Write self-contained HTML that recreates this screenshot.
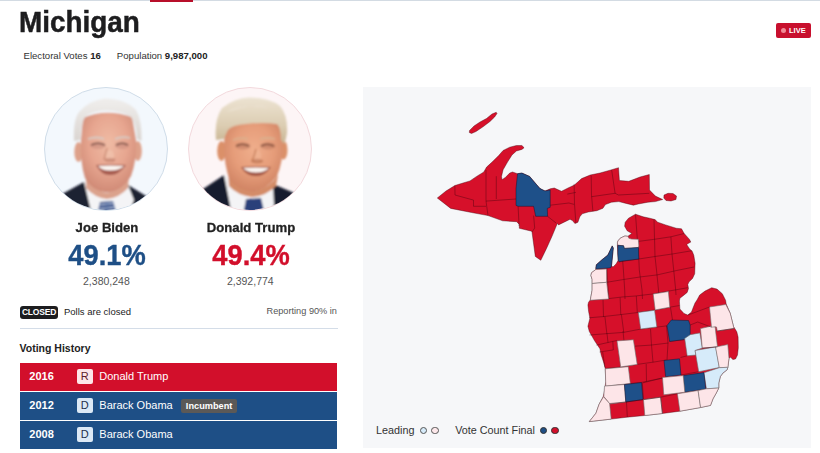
<!DOCTYPE html>
<html><head><meta charset="utf-8">
<style>
*{margin:0;padding:0;box-sizing:border-box}
html,body{width:820px;height:453px;overflow:hidden;background:#fff}
body{position:relative;font-family:"Liberation Sans",sans-serif;color:#222}
.a{position:absolute;white-space:nowrap;line-height:1}
#topline{position:absolute;left:0;top:0;width:820px;height:1px;background:#d3dbe3}
#topred{position:absolute;left:150px;top:0;width:43px;height:1.5px;background:#b80f2a}
#title{left:19.2px;top:7.3px;-webkit-text-stroke:0.5px #1d1d1f;font-size:30px;transform:scaleX(0.93);transform-origin:0 0;font-weight:bold;color:#1d1d1f}
#meta{left:23.5px;top:50.5px;font-size:9.6px;color:#333}
#meta b{color:#222}
#live{position:absolute;left:776px;top:23px;width:35px;height:15px;background:#c8102e;border-radius:2px;color:#fff;font-size:7.5px;font-weight:bold}
#live i{position:absolute;left:5px;top:5px;width:5px;height:5px;border-radius:50%;background:#f08a96}
#live span{position:absolute;left:13px;top:4px;line-height:1}
.photo{position:absolute;top:87px;width:124px;height:124px;border-radius:50%;overflow:hidden}
.name{font-size:13.7px;-webkit-text-stroke:0.3px #222;transform:scaleX(0.96);transform-origin:70px 0;font-weight:bold;color:#222;text-align:center;width:140px}
.pct{font-size:29.8px;-webkit-text-stroke:0.4px currentColor;font-weight:bold;text-align:center;width:140px;transform:scaleX(0.915);transform-origin:70px 0}
.votes{font-size:10.5px;color:#555;text-align:center;width:140px}
#closed{position:absolute;left:20px;top:306px;width:38px;height:13px;background:#1d1d1f;border-radius:3px;color:#fff;font-size:8.5px;font-weight:bold;text-align:center;line-height:13px;letter-spacing:-0.2px}
#hr{position:absolute;left:20px;top:328px;width:318px;height:1px;background:#d4dde8}
#vh{left:19.5px;top:342.8px;font-size:10.5px;font-weight:bold;color:#222}
.row{position:absolute;left:20px;width:317px;height:28px;color:#fff}
.row .yr{position:absolute;left:9.3px;top:8.4px;font-size:11px;font-weight:bold;line-height:1}
.row .bd{position:absolute;left:56.8px;top:6.3px;width:16px;height:14.5px;border-radius:2px;font-size:11px;text-align:center;line-height:15.8px}
.row .nm{position:absolute;left:79.3px;top:8.4px;font-size:11px;line-height:1}
#map{position:absolute;left:0;top:0}
#legend{left:376px;top:424.7px;font-size:10.8px;color:#333}
</style></head><body>
<div id="topline"></div><div id="topred"></div>
<div class="a" id="title">Michigan</div>
<div class="a" id="meta">Electoral Votes <b>16</b><span style="display:inline-block;width:16px"></span>Population <b>9,987,000</b></div>
<div id="live"><i></i><span>LIVE</span></div>

<!-- map panel -->
<div style="position:absolute;left:363px;top:87px;width:448px;height:361px;background:#f6f7f9"></div>

<!-- Biden photo -->
<div class="photo" id="pb" style="left:44px;border:1px solid #d0dde9;background:#f3f8fd"><svg viewBox="44 87 124 124" width="124" height="124" style="position:absolute;left:-1px;top:-1px">
<defs>
<radialGradient id="bf" cx="0.5" cy="0.38" r="0.62"><stop offset="0" stop-color="#efbba4"/><stop offset="0.55" stop-color="#e7a690"/><stop offset="1" stop-color="#d08a76"/></radialGradient>
<linearGradient id="bh" x1="0" y1="0" x2="0" y2="1"><stop offset="0" stop-color="#f0eeec"/><stop offset="1" stop-color="#dad5d1"/></linearGradient>
<filter id="bl1" x="-10%" y="-10%" width="120%" height="120%"><feGaussianBlur stdDeviation="0.8"/></filter>
</defs>
<g filter="url(#bl1)">
<path d="M40,215 L50,200 L64,193 L84,182 L96,200 L100,215 Z" fill="#1b2030"/>
<path d="M172,215 L160,203 L146,196 L128,185 L120,200 L118,215 Z" fill="#1b2030"/>
<path d="M84,182 L98,189 L106,201 L114,191 L128,185 L134,200 L128,215 L92,215 Z" fill="#f4f4f6"/>
<path d="M86,172 Q92,190 107,193 Q122,190 129,174 L128,188 Q119,198 107,199 Q95,198 86,188 Z" fill="#dba28c"/>
<path d="M100,202 L113,201 L117,215 L97,215 Z" fill="#34508c"/>
<path d="M99,205 L115,203 M98,209 L116,207 M97,213 L117,211" stroke="#c9d6ea" stroke-width="1.2"/>
<ellipse cx="78.5" cy="152" rx="4.2" ry="10" fill="#dea18a"/>
<ellipse cx="137.8" cy="151" rx="4" ry="10" fill="#dea18a"/>
<path d="M83,118 Q106,108 132,117 L136,140 Q137,160 131,176 Q122,191 107,192.5 Q92,191 85,178 Q80,162 81,140 Z" fill="url(#bf)"/>
<path d="M74,141 Q73,120 79,112 Q90,100 105,98.5 Q126,99 136,110 Q142,120 141.5,141 L137,139 Q136,124 131,117 Q121,110.5 106,110.5 Q92,111 85,117 Q81,124 80.5,140 Z" fill="url(#bh)"/>
<ellipse cx="98" cy="145.5" rx="7.5" ry="3.6" fill="#c88a7c" opacity="0.55"/><ellipse cx="122" cy="145.5" rx="7" ry="3.6" fill="#c88a7c" opacity="0.55"/><ellipse cx="110" cy="156" rx="4" ry="6" fill="#f4c8b2" opacity="0.6"/><ellipse cx="110" cy="160" rx="5.5" ry="2" fill="#b87062" opacity="0.5"/>
<path d="M88,139 Q97,136 104,139 M115,139 Q122,136 130,138" stroke="#d6cbc4" stroke-width="1.8" fill="none"/>
<path d="M91,145 Q98,141.5 105,145" stroke="#7a5046" stroke-width="1.5" fill="none"/>
<path d="M116,145 Q122,141.5 128,145" stroke="#7a5046" stroke-width="1.5" fill="none"/>
<path d="M107,148 Q105,156 104,159 Q109,162 115,159" stroke="#c98a72" stroke-width="1.2" fill="none"/>
<path d="M96,165 Q110,164 126,165 Q119,175 110,175 Q101,175 96,165 Z" fill="#a55a4e"/>
<path d="M98,166 Q110,165 124,166 Q119,170.5 110,170.5 Q102,170.5 98,166 Z" fill="#fbf6f2"/>
</g>
</svg></div>
<!-- Trump photo -->
<div class="photo" id="pt" style="left:188px;border:1px solid #f3d9dd;background:#fdf5f6"><svg viewBox="188 87 124 124" width="124" height="124" style="position:absolute;left:-1px;top:-1px">
<defs>
<radialGradient id="tf" cx="0.5" cy="0.4" r="0.62"><stop offset="0" stop-color="#efae8c"/><stop offset="0.55" stop-color="#e69d7a"/><stop offset="1" stop-color="#cf8262"/></radialGradient>
<linearGradient id="th" x1="0" y1="0" x2="0" y2="1"><stop offset="0" stop-color="#ece3d2"/><stop offset="0.6" stop-color="#dccdb2"/><stop offset="1" stop-color="#c8b492"/></linearGradient>
<filter id="bl2" x="-10%" y="-10%" width="120%" height="120%"><feGaussianBlur stdDeviation="0.8"/></filter>
</defs>
<g filter="url(#bl2)">
<path d="M186,215 L191,195 L203,189 L224,175 L236,205 L240,215 Z" fill="#191e2f"/>
<path d="M316,215 L305,199 L292,192 L273,184 L266,200 L264,215 Z" fill="#191e2f"/>
<path d="M224,175 L240,186 L250,200 L262,190 L273,184 L274,205 L268,215 L232,215 Z" fill="#f4f4f6"/>
<path d="M228,172 Q236,188 254,191 Q270,188 278,175 L276,186 Q266,196 253,197 Q238,196 229,186 Z" fill="#d48c68"/>
<path d="M246,199 L261,198 L265,215 L243,215 Z" fill="#2c417a"/>
<ellipse cx="221.5" cy="151" rx="4.3" ry="10" fill="#db9069"/>
<ellipse cx="283.5" cy="150" rx="4" ry="9.5" fill="#db9069"/>
<path d="M225,124 Q250,119 281,124 L283,142 Q283,162 277,176 Q267,190 253,191.5 Q238,190 230,180 Q224,166 224,145 Z" fill="url(#tf)"/>
<path d="M216,140 Q214,120 222,108 Q236,97 250,97.5 Q270,98 280,106 Q288,115 287,133 Q286,140 284,144 L281,140 Q281,128 277,124 Q262,122 246,124 Q232,125 228,130 Q225,136 224,139 Z" fill="url(#th)"/>
<path d="M226,112 Q244,103 270,108 Q256,104 240,108 Z" fill="#f3eee4" opacity="0.8"/>
<ellipse cx="243" cy="146" rx="7.5" ry="3.6" fill="#c07a60" opacity="0.55"/><ellipse cx="268" cy="146" rx="7.5" ry="3.6" fill="#c07a60" opacity="0.55"/><ellipse cx="257" cy="156" rx="4.2" ry="6.5" fill="#f2b898" opacity="0.6"/><ellipse cx="257" cy="161" rx="6" ry="2.2" fill="#b0664a" opacity="0.5"/>
<path d="M233,140 Q241,137 248,139 M260,139 Q267,137 275,139" stroke="#dab08e" stroke-width="1.8" fill="none"/>
<path d="M236,146 Q242,142.5 249,146" stroke="#7a4a38" stroke-width="1.5" fill="none"/>
<path d="M261,146 Q267,142.5 274,146" stroke="#7a4a38" stroke-width="1.5" fill="none"/>
<path d="M256,149 Q254,157 252,161 Q257,164 263,161" stroke="#c27750" stroke-width="1.2" fill="none"/>
<path d="M241,167 Q256,166 271,167 Q265,176 256,176 Q246,176 241,167 Z" fill="#9e4f3e"/>
<path d="M243,168 Q256,167 269,168 Q264,172.5 256,172.5 Q248,172.5 243,168 Z" fill="#fbf6f2"/>
</g>
</svg></div>

<div class="a name" style="left:36.7px;top:221.1px">Joe Biden</div>
<div class="a name" style="left:180.7px;top:221.1px">Donald Trump</div>
<div class="a pct" style="left:36.7px;top:239.8px;color:#1e4f86">49.1%</div>
<div class="a pct" style="left:180.7px;top:239.8px;color:#d20f2b">49.4%</div>
<div class="a votes" style="left:36.4px;top:275.6px">2,380,248</div>
<div class="a votes" style="left:180.3px;top:275.6px">2,392,774</div>

<div id="closed">CLOSED</div>
<div class="a" style="left:64px;top:306.5px;font-size:9.5px;color:#222">Polls are closed</div>
<div class="a" style="left:266.5px;top:307px;font-size:9.2px;color:#555">Reporting 90% in</div>
<div id="hr"></div>
<div class="a" id="vh">Voting History</div>

<div class="row" style="top:363px;background:#d20f2b"><span class="yr">2016</span><span class="bd" style="background:#fde6e9;color:#5e1a2a">R</span><span class="nm">Donald Trump</span></div>
<div class="row" style="top:392px;background:#1e4f86"><span class="yr">2012</span><span class="bd" style="background:#dce9f6;color:#22304a">D</span><span class="nm">Barack Obama</span><span style="position:absolute;left:161.3px;top:7.3px;width:55.6px;height:14.1px;background:#5b5957;border-radius:2px;font-size:9.2px;font-weight:bold;text-align:center;line-height:14.1px">Incumbent</span></div>
<div class="row" style="top:421px;background:#1e4f86"><span class="yr">2008</span><span class="bd" style="background:#dce9f6;color:#22304a">D</span><span class="nm">Barack Obama</span></div>

<svg id="map" width="820" height="453" viewBox="0 0 820 453">
<polygon points="469.5,130.5 474.0,126.0 480.0,122.0 486.5,118.5 492.0,114.0 496.2,112.3 497.0,113.5 494.6,117.0 490.0,121.5 483.0,126.8 476.0,131.5 471.5,133.5 469.3,132.5" fill="#d6102a" stroke="rgba(60,0,10,0.55)" stroke-width="0.7" stroke-linejoin="round"/>
<polygon points="437.3,198.0 446.0,191.0 454.9,185.5 463.0,183.0 470.0,180.9 476.6,176.4 483.8,172.0 486.6,167.1 492.1,162.1 498.7,155.5 503.1,150.5 509.7,147.2 516.4,145.5 521.9,145.5 524.1,147.7 521.9,149.4 516.4,151.0 512.0,154.9 507.5,162.1 503.1,169.8 501.5,176.4 502.0,179.7 505.3,177.5 509.7,173.1 512.5,172.0 517.5,173.7 521.9,173.1 529.6,176.4 536.2,184.2 540.0,188.6 545.0,191.0 550.2,188.8 554.3,188.0 561.5,191.3 568.0,188.0 574.4,185.0 581.6,178.6 590.2,175.0 600.0,173.0 610.0,170.2 618.5,167.7 619.4,180.5 628.8,181.3 640.0,177.0 649.3,174.5 649.5,190.0 655.4,196.1 662.7,199.5 655.4,201.6 648.0,202.2 638.3,204.0 633.4,205.2 626.1,203.4 618.8,201.6 611.5,202.2 605.4,204.6 602.9,208.3 596.8,210.7 588.3,212.0 582.2,213.8 579.8,216.8 577.9,222.3 574.9,223.5 572.4,220.5 570.0,219.3 558.5,224.9 557.4,223.3 551.9,236.6 546.4,248.7 540.8,260.3 535.3,256.4 532.0,232.1 531.6,231.2 519.3,228.3 519.3,224.4 516.6,221.7 502.6,220.8 488.0,215.6 471.5,212.5 450.7,208.4" fill="#d6102a" stroke="rgba(60,0,10,0.55)" stroke-width="0.7" stroke-linejoin="round"/>
<polygon points="664.0,195.0 668.0,193.3 673.0,193.5 676.5,196.0 676.0,199.5 671.0,201.0 666.0,200.5 663.8,198.0" fill="#d6102a" stroke="rgba(60,0,10,0.55)" stroke-width="0.7" stroke-linejoin="round"/>
<polyline points="454.9,185.5 455.0,195.0 473.5,200.1 473.5,206.3 486.0,206.3" fill="none" stroke="rgba(60,0,10,0.55)" stroke-width="0.7" stroke-linejoin="round"/>
<polyline points="486.0,170.0 486.0,201.1 488.0,215.6" fill="none" stroke="rgba(60,0,10,0.55)" stroke-width="0.7" stroke-linejoin="round"/>
<polyline points="496.3,176.2 496.3,199.0" fill="none" stroke="rgba(60,0,10,0.55)" stroke-width="0.7" stroke-linejoin="round"/>
<polyline points="486.0,201.1 516.0,199.0" fill="none" stroke="rgba(60,0,10,0.55)" stroke-width="0.7" stroke-linejoin="round"/>
<polyline points="518.1,206.3 519.1,226.0" fill="none" stroke="rgba(60,0,10,0.55)" stroke-width="0.7" stroke-linejoin="round"/>
<polyline points="533.6,215.6 534.7,228.0 532.0,232.0" fill="none" stroke="rgba(60,0,10,0.55)" stroke-width="0.7" stroke-linejoin="round"/>
<polyline points="547.5,216.3 556.1,223.0" fill="none" stroke="rgba(60,0,10,0.55)" stroke-width="0.7" stroke-linejoin="round"/>
<polyline points="550.2,205.2 568.9,203.0 574.1,204.4" fill="none" stroke="rgba(60,0,10,0.55)" stroke-width="0.7" stroke-linejoin="round"/>
<polyline points="567.3,194.1 575.9,192.4" fill="none" stroke="rgba(60,0,10,0.55)" stroke-width="0.7" stroke-linejoin="round"/>
<polyline points="574.1,183.9 574.5,204.0 575.9,223.2" fill="none" stroke="rgba(60,0,10,0.55)" stroke-width="0.7" stroke-linejoin="round"/>
<polyline points="591.2,175.7 591.5,195.0 592.9,211.2" fill="none" stroke="rgba(60,0,10,0.55)" stroke-width="0.7" stroke-linejoin="round"/>
<polyline points="611.7,170.2 615.1,193.3" fill="none" stroke="rgba(60,0,10,0.55)" stroke-width="0.7" stroke-linejoin="round"/>
<polyline points="591.5,196.7 615.1,193.3 618.5,195.0 649.3,193.3" fill="none" stroke="rgba(60,0,10,0.55)" stroke-width="0.7" stroke-linejoin="round"/>
<polygon points="635.5,214.2 643.2,216.8 649.7,218.2 655.0,219.6 657.7,222.2 665.6,224.9 676.2,228.2 681.5,228.8 684.2,233.5 689.5,239.4 690.8,242.1 688.1,243.4 686.8,244.7 689.5,248.7 692.3,251.5 693.8,255.3 695.1,263.2 694.7,273.8 692.5,278.5 689.1,281.8 687.8,284.4 688.5,288.4 687.2,292.4 683.2,295.7 679.9,298.3 679.4,301.0 679.9,309.0 684.0,313.5 687.8,315.0 691.5,312.0 693.0,308.0 695.0,303.0 697.0,300.0 699.7,295.0 705.0,291.1 711.7,287.7 717.0,289.1 722.3,293.7 725.6,300.3 726.2,304.0 730.2,313.2 733.5,326.5 736.8,331.8 738.1,337.1 738.3,347.7 737.5,355.0 735.5,359.0 732.8,359.6 730.5,357.0 729.0,358.5 728.5,362.0 727.9,367.3 727.1,369.8 722.9,373.1 720.4,376.4 718.8,383.0 718.8,388.0 716.3,393.0 713.0,398.8 710.5,405.4 700.6,407.5 679.9,411.2 662.4,413.5 644.8,415.5 627.1,417.2 611.2,419.1 589.3,421.6 595.9,413.3 599.2,404.0 603.2,396.7 604.5,390.8 605.8,381.5 605.2,368.2 603.8,362.9 601.2,355.0 599.9,348.7 594.6,340.8 589.3,331.5 587.9,326.2 589.9,318.2 588.6,311.6 587.9,305.0 588.5,302.3 590.3,299.9 592.1,290.2 592.1,279.3 590.9,275.6 591.5,272.8 595.8,269.5 595.8,268.3 596.4,264.7 601.8,259.9 607.9,255.0 612.2,245.9 613.3,248.0 612.5,256.0 611.5,265.8 613.0,267.0 616.0,264.0 618.2,260.3 617.8,254.1 617.4,245.3 617.4,242.7 618.2,240.4 620.9,237.8 624.9,236.0 627.9,236.3 629.9,234.8 631.9,233.5 627.2,230.8 624.6,226.2 625.2,222.2 628.5,218.2" fill="#d6102a" stroke="rgba(60,0,10,0.55)" stroke-width="0.7" stroke-linejoin="round"/>
<polyline points="635.5,214.3 637.5,241.5 638.8,259.0 639.3,270.0 642.0,290.0 642.5,299.0" fill="none" stroke="rgba(60,0,10,0.55)" stroke-width="0.7" stroke-linejoin="round"/>
<polyline points="654.0,219.5 655.0,256.5 656.5,270.0 658.5,290.0 659.0,299.0" fill="none" stroke="rgba(60,0,10,0.55)" stroke-width="0.7" stroke-linejoin="round"/>
<polyline points="670.9,236.8 672.0,254.0 673.7,270.0 675.7,290.0 676.0,295.0" fill="none" stroke="rgba(60,0,10,0.55)" stroke-width="0.7" stroke-linejoin="round"/>
<polyline points="622.7,261.0 623.4,270.0 624.7,290.0 625.0,299.0" fill="none" stroke="rgba(60,0,10,0.55)" stroke-width="0.7" stroke-linejoin="round"/>
<polyline points="606.9,268.5 608.2,290.0 608.8,299.0" fill="none" stroke="rgba(60,0,10,0.55)" stroke-width="0.7" stroke-linejoin="round"/>
<polyline points="637.5,241.5 653.7,239.4 670.9,236.8 684.2,233.5" fill="none" stroke="rgba(60,0,10,0.55)" stroke-width="0.7" stroke-linejoin="round"/>
<polyline points="619.0,261.8 638.8,259.0 655.0,256.5 672.3,254.0 692.1,250.7" fill="none" stroke="rgba(60,0,10,0.55)" stroke-width="0.7" stroke-linejoin="round"/>
<polyline points="592.0,283.5 606.7,282.3 623.5,279.5 640.6,276.9 657.2,274.9 676.6,270.5 694.0,267.0" fill="none" stroke="rgba(60,0,10,0.55)" stroke-width="0.7" stroke-linejoin="round"/>
<polyline points="590.3,300.0 608.8,298.6 622.0,297.0 635.3,296.0 652.5,294.0 668.6,291.1 687.8,287.7" fill="none" stroke="rgba(60,0,10,0.55)" stroke-width="0.7" stroke-linejoin="round"/>
<polyline points="603.0,299.2 603.5,317.0" fill="none" stroke="rgba(60,0,10,0.55)" stroke-width="0.7" stroke-linejoin="round"/>
<polyline points="620.1,297.5 620.8,314.8" fill="none" stroke="rgba(60,0,10,0.55)" stroke-width="0.7" stroke-linejoin="round"/>
<polyline points="636.3,296.0 637.3,312.6" fill="none" stroke="rgba(60,0,10,0.55)" stroke-width="0.7" stroke-linejoin="round"/>
<polyline points="589.0,317.8 604.2,316.5 621.4,314.5 638.0,312.5 655.2,309.9 669.8,307.2 679.5,305.5" fill="none" stroke="rgba(60,0,10,0.55)" stroke-width="0.7" stroke-linejoin="round"/>
<polyline points="604.9,316.5 606.9,334.0" fill="none" stroke="rgba(60,0,10,0.55)" stroke-width="0.7" stroke-linejoin="round"/>
<polyline points="621.4,314.5 623.8,332.5" fill="none" stroke="rgba(60,0,10,0.55)" stroke-width="0.7" stroke-linejoin="round"/>
<polyline points="670.5,307.5 672.5,320.0" fill="none" stroke="rgba(60,0,10,0.55)" stroke-width="0.7" stroke-linejoin="round"/>
<polyline points="589.5,335.0 606.2,333.7 623.4,332.4 640.6,329.1 657.2,327.1 667.0,325.8" fill="none" stroke="rgba(60,0,10,0.55)" stroke-width="0.7" stroke-linejoin="round"/>
<polyline points="607.0,333.5 608.0,342.5" fill="none" stroke="rgba(60,0,10,0.55)" stroke-width="0.7" stroke-linejoin="round"/>
<polyline points="623.0,331.0 624.0,341.0" fill="none" stroke="rgba(60,0,10,0.55)" stroke-width="0.7" stroke-linejoin="round"/>
<polyline points="650.5,329.0 651.5,345.1 653.0,362.3" fill="none" stroke="rgba(60,0,10,0.55)" stroke-width="0.7" stroke-linejoin="round"/>
<polyline points="666.5,326.0 668.0,343.0 667.0,360.0" fill="none" stroke="rgba(60,0,10,0.55)" stroke-width="0.7" stroke-linejoin="round"/>
<polyline points="596.4,345.1 608.0,342.5 612.8,341.4 617.0,340.5" fill="none" stroke="rgba(60,0,10,0.55)" stroke-width="0.7" stroke-linejoin="round"/>
<polyline points="599.5,352.0 613.3,349.9 612.8,341.4" fill="none" stroke="rgba(60,0,10,0.55)" stroke-width="0.7" stroke-linejoin="round"/>
<polyline points="634.5,346.2 650.9,345.1 668.4,343.0" fill="none" stroke="rgba(60,0,10,0.55)" stroke-width="0.7" stroke-linejoin="round"/>
<polyline points="602.7,352.0 604.8,367.4" fill="none" stroke="rgba(60,0,10,0.55)" stroke-width="0.7" stroke-linejoin="round"/>
<polyline points="605.2,368.5 620.7,367.0 637.2,364.4 653.6,362.1 666.3,360.0" fill="none" stroke="rgba(60,0,10,0.55)" stroke-width="0.7" stroke-linejoin="round"/>
<polyline points="646.2,364.0 646.5,381.5" fill="none" stroke="rgba(60,0,10,0.55)" stroke-width="0.7" stroke-linejoin="round"/>
<polyline points="630.3,383.5 641.0,382.5 662.5,378.0" fill="none" stroke="rgba(60,0,10,0.55)" stroke-width="0.7" stroke-linejoin="round"/>
<polyline points="642.3,382.8 643.5,399.6" fill="none" stroke="rgba(60,0,10,0.55)" stroke-width="0.7" stroke-linejoin="round"/>
<polyline points="606.0,386.0 624.4,384.5" fill="none" stroke="rgba(60,0,10,0.55)" stroke-width="0.7" stroke-linejoin="round"/>
<polyline points="684.1,339.6 669.6,341.4" fill="none" stroke="rgba(60,0,10,0.55)" stroke-width="0.7" stroke-linejoin="round"/>
<polygon points="516.0,188.7 517.5,173.7 521.9,173.1 529.6,176.4 536.2,184.2 540.0,188.6 545.0,191.0 550.2,190.0 550.2,207.3 547.3,208.4 547.6,216.3 535.7,216.3 533.6,206.3 518.1,206.3 516.0,205.4" fill="#1e5089" stroke="rgba(5,15,40,0.6)" stroke-width="0.7" stroke-linejoin="round"/>
<polygon points="595.8,268.3 596.4,264.7 601.8,259.9 607.9,255.0 612.2,245.9 613.3,248.0 612.5,256.0 611.5,265.8 610.8,267.7 606.9,268.2 596.3,268.9" fill="#1e5089" stroke="rgba(5,15,40,0.6)" stroke-width="0.7" stroke-linejoin="round"/>
<polygon points="617.4,242.7 618.2,240.4 620.9,237.8 624.9,236.0 627.9,236.3 628.8,238.2 631.5,239.1 638.3,239.3 638.8,245.3 638.5,247.5 624.4,248.4 623.5,245.7 617.8,245.3" fill="#fde5e8" stroke="#707070" stroke-width="0.6" stroke-linejoin="round"/>
<polygon points="617.8,245.3 623.5,245.7 624.4,248.4 638.5,247.5 638.8,259.0 622.7,261.0 619.0,261.8 618.2,260.3 617.8,254.1" fill="#1e5089" stroke="rgba(5,15,40,0.6)" stroke-width="0.7" stroke-linejoin="round"/>
<polygon points="591.5,272.8 595.8,269.5 606.5,269.0 606.7,282.3 592.1,283.5 592.1,279.3 590.9,275.6" fill="#fde5e8" stroke="#707070" stroke-width="0.6" stroke-linejoin="round"/>
<polygon points="592.1,283.5 606.7,282.3 608.6,299.0 590.3,300.2 592.1,290.2" fill="#fde5e8" stroke="#707070" stroke-width="0.6" stroke-linejoin="round"/>
<polygon points="653.2,294.0 668.4,291.6 669.8,307.2 655.2,309.9" fill="#fde5e8" stroke="#707070" stroke-width="0.6" stroke-linejoin="round"/>
<polygon points="638.3,312.4 654.6,310.3 656.8,326.9 640.7,329.0" fill="#d6ebfa" stroke="#707070" stroke-width="0.6" stroke-linejoin="round"/>
<polygon points="667.0,325.5 671.3,320.0 688.5,320.5 690.2,325.0 690.2,336.5 684.1,339.6 669.6,341.4" fill="#1e5089" stroke="rgba(5,15,40,0.6)" stroke-width="0.7" stroke-linejoin="round"/>
<polygon points="617.0,340.9 633.4,339.8 637.2,364.4 620.7,366.9" fill="#fde5e8" stroke="#707070" stroke-width="0.6" stroke-linejoin="round"/>
<polygon points="605.3,368.8 628.3,366.7 630.3,383.5 605.8,386.1" fill="#fde5e8" stroke="#707070" stroke-width="0.6" stroke-linejoin="round"/>
<polygon points="664.0,360.5 679.5,358.8 681.0,375.0 665.6,376.7" fill="#1e5089" stroke="rgba(5,15,40,0.6)" stroke-width="0.7" stroke-linejoin="round"/>
<polygon points="684.7,338.4 690.2,334.7 699.9,332.9 702.3,348.1 695.1,350.5 695.8,355.0 687.2,355.8" fill="#d6ebfa" stroke="#707070" stroke-width="0.6" stroke-linejoin="round"/>
<polygon points="700.5,328.6 710.8,326.2 715.1,326.8 717.5,346.9 702.3,348.1" fill="#fde5e8" stroke="#707070" stroke-width="0.6" stroke-linejoin="round"/>
<polygon points="709.5,307.0 725.8,304.5 730.2,313.2 733.5,326.5 734.0,328.5 717.3,331.0 716.5,327.0 715.1,326.8 711.5,327.2" fill="#fde5e8" stroke="#707070" stroke-width="0.6" stroke-linejoin="round"/>
<polygon points="695.1,350.5 715.7,346.9 719.3,367.5 698.7,371.7" fill="#d6ebfa" stroke="#707070" stroke-width="0.6" stroke-linejoin="round"/>
<polygon points="715.5,347.0 727.8,344.6 729.0,358.5 728.5,362.0 727.9,367.3 719.3,367.7" fill="#fde5e8" stroke="#707070" stroke-width="0.6" stroke-linejoin="round"/>
<polygon points="703.9,372.8 719.3,367.7 727.9,367.3 727.1,369.8 722.9,373.1 720.4,376.4 718.8,383.0 718.8,388.0 706.4,388.8" fill="#d6ebfa" stroke="#707070" stroke-width="0.6" stroke-linejoin="round"/>
<polygon points="683.2,375.6 703.9,372.6 705.8,389.0 684.8,392.2" fill="#1e5089" stroke="rgba(5,15,40,0.6)" stroke-width="0.7" stroke-linejoin="round"/>
<polygon points="662.5,377.5 683.2,375.6 684.8,392.2 663.8,394.8" fill="#fde5e8" stroke="#707070" stroke-width="0.6" stroke-linejoin="round"/>
<polygon points="604.5,386.1 624.4,384.5 625.8,402.0 609.8,404.0 603.8,396.5" fill="#fde5e8" stroke="#707070" stroke-width="0.6" stroke-linejoin="round"/>
<polygon points="624.4,384.5 641.5,382.6 643.0,399.6 625.8,402.0" fill="#1e5089" stroke="rgba(5,15,40,0.6)" stroke-width="0.7" stroke-linejoin="round"/>
<polygon points="603.5,396.7 609.6,403.5 611.2,419.1 589.3,421.6 595.9,413.3 599.2,404.0" fill="#fde5e8" stroke="#707070" stroke-width="0.6" stroke-linejoin="round"/>
<polygon points="643.5,399.6 660.6,397.2 662.4,413.5 644.8,415.5" fill="#fde5e8" stroke="#707070" stroke-width="0.6" stroke-linejoin="round"/>
<polygon points="677.4,393.8 698.1,390.5 700.6,407.5 679.9,411.2" fill="#fde5e8" stroke="#707070" stroke-width="0.6" stroke-linejoin="round"/>
<polygon points="698.1,390.5 706.4,388.8 718.8,388.0 716.3,393.0 713.0,398.8 710.5,405.4 700.6,407.5" fill="#fde5e8" stroke="#707070" stroke-width="0.6" stroke-linejoin="round"/>
<polyline points="609.6,403.5 625.8,402.0 643.5,399.6 660.6,397.2 677.4,393.8" fill="none" stroke="rgba(60,0,10,0.55)" stroke-width="0.7" stroke-linejoin="round"/>
<polyline points="626.5,402.0 627.3,417.0" fill="none" stroke="rgba(60,0,10,0.55)" stroke-width="0.7" stroke-linejoin="round"/>
<polyline points="660.6,397.2 662.4,413.5" fill="none" stroke="rgba(60,0,10,0.55)" stroke-width="0.7" stroke-linejoin="round"/>
<polyline points="643.0,382.8 662.5,378.0" fill="none" stroke="rgba(60,0,10,0.55)" stroke-width="0.7" stroke-linejoin="round"/>
<polyline points="681.0,375.0 698.7,371.7" fill="none" stroke="rgba(60,0,10,0.55)" stroke-width="0.7" stroke-linejoin="round"/>
<polyline points="680.5,357.5 687.2,355.8" fill="none" stroke="rgba(60,0,10,0.55)" stroke-width="0.7" stroke-linejoin="round"/>
<polyline points="702.3,348.1 717.5,346.9" fill="none" stroke="rgba(60,0,10,0.55)" stroke-width="0.7" stroke-linejoin="round"/>
<polyline points="717.3,331.0 733.8,328.5" fill="none" stroke="rgba(60,0,10,0.55)" stroke-width="0.7" stroke-linejoin="round"/>
<polyline points="690.2,325.0 697.7,322.0 711.5,327.2" fill="none" stroke="rgba(60,0,10,0.55)" stroke-width="0.7" stroke-linejoin="round"/>
<polyline points="688.0,315.0 709.5,307.0" fill="none" stroke="rgba(60,0,10,0.55)" stroke-width="0.7" stroke-linejoin="round"/>
</svg>

<div class="a" id="legend">Leading</div>
<div class="a" style="left:455.2px;top:424.7px;font-size:10.8px;color:#333">Vote Count Final</div>
<div style="position:absolute;left:420px;top:426.5px;width:7.4px;height:7.4px;border-radius:50%;background:#d6ebfa;border:1px solid #555"></div>
<div style="position:absolute;left:431.2px;top:426.5px;width:7.4px;height:7.4px;border-radius:50%;background:#fde8eb;border:1px solid #555"></div>
<div style="position:absolute;left:540px;top:426.5px;width:7.4px;height:7.4px;border-radius:50%;background:#1e4f86;border:1px solid #333"></div>
<div style="position:absolute;left:551.3px;top:426.5px;width:7.4px;height:7.4px;border-radius:50%;background:#d20f2b;border:1px solid #333"></div>
</body></html>
